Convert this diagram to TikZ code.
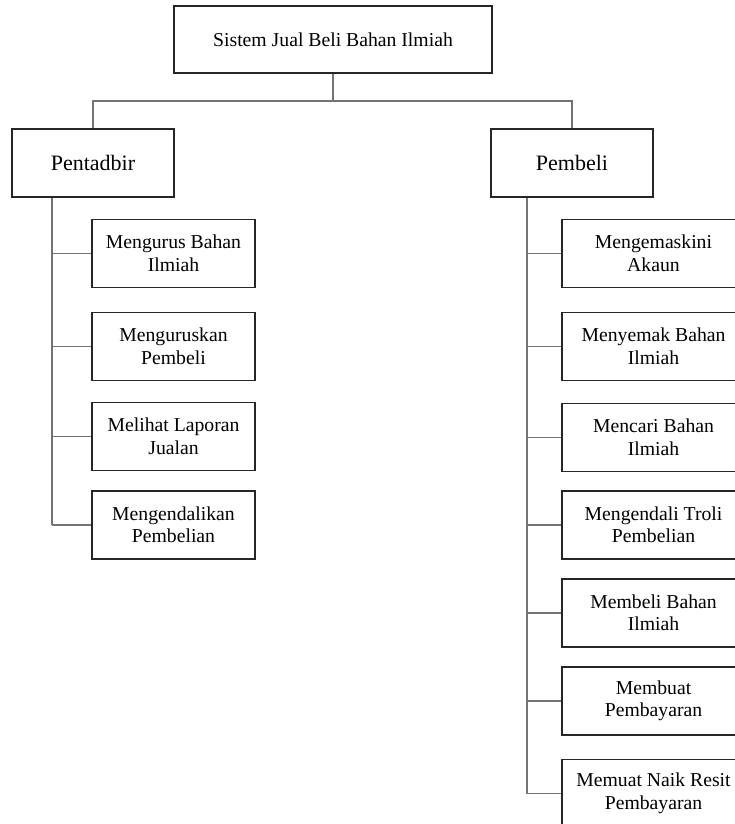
\documentclass[tikz,border=0pt]{standalone}
\usepackage{fontspec}
\setmainfont{Liberation Serif}
\begin{document}
\begin{tikzpicture}[x=1pt,y=-1pt,
  box/.style={draw=black!85, line width=1.6pt, minimum height=68pt, align=center, inner sep=0pt, font=\fontsize{19.7}{22.5}\selectfont},
  lvl/.style={box, minimum width=162pt, font=\fontsize{22}{25}\selectfont},
  leftc/.style={box, minimum width=163pt},
  rightc/.style={box, minimum width=183pt},
  conn/.style={draw=black!55, line width=1.1pt}]
\useasboundingbox (0,0) rectangle (735,824);

\node[box, minimum width=318pt, minimum height=67pt] (root) at (333,39.5) {Sistem Jual Beli Bahan Ilmiah};
\node[lvl] (pent) at (93,163) {Pentadbir};
\node[lvl] (pemb) at (572,163) {Pembeli};

\node[leftc] (l1) at (173.5,253.5) {Mengurus Bahan\\Ilmiah};
\node[leftc] (l2) at (173.5,346.5) {Menguruskan\\Pembeli};
\node[leftc] (l3) at (173.5,436.5) {Melihat Laporan\\Jualan};
\node[leftc] (l4) at (173.5,525) {Mengendalikan\\Pembelian};

\node[rightc] (r1) at (653.5,253.5) {Mengemaskini\\Akaun};
\node[rightc] (r2) at (653.5,346.5) {Menyemak Bahan\\Ilmiah};
\node[rightc] (r3) at (653.5,437.5) {Mencari Bahan\\Ilmiah};
\node[rightc] (r4) at (653.5,525) {Mengendali Troli\\Pembelian};
\node[rightc] (r5) at (653.5,613) {Membeli Bahan\\Ilmiah};
\node[rightc] (r6) at (653.5,701) {Membuat\\Pembayaran};
\node[rightc] (r7) at (653.5,793.5) {Memuat Naik Resit\\Pembayaran};

\coordinate (bus) at (333,101);
\coordinate (tl) at (52,525);
\coordinate (tr) at (527,793.5);

\draw[conn] (root.south) -- (bus);
\draw[conn] (pent.north) |- (bus) -| (pemb.north);

\draw[conn] (pent.south -| tl) -- (tl);
\foreach \c in {l1,l2,l3,l4} \draw[conn] (\c.west -| tl) -- (\c.west);

\draw[conn] (pemb.south -| tr) -- (tr);
\foreach \c in {r1,r2,r3,r4,r5,r6,r7} \draw[conn] (\c.west -| tr) -- (\c.west);
\end{tikzpicture}
\end{document}
